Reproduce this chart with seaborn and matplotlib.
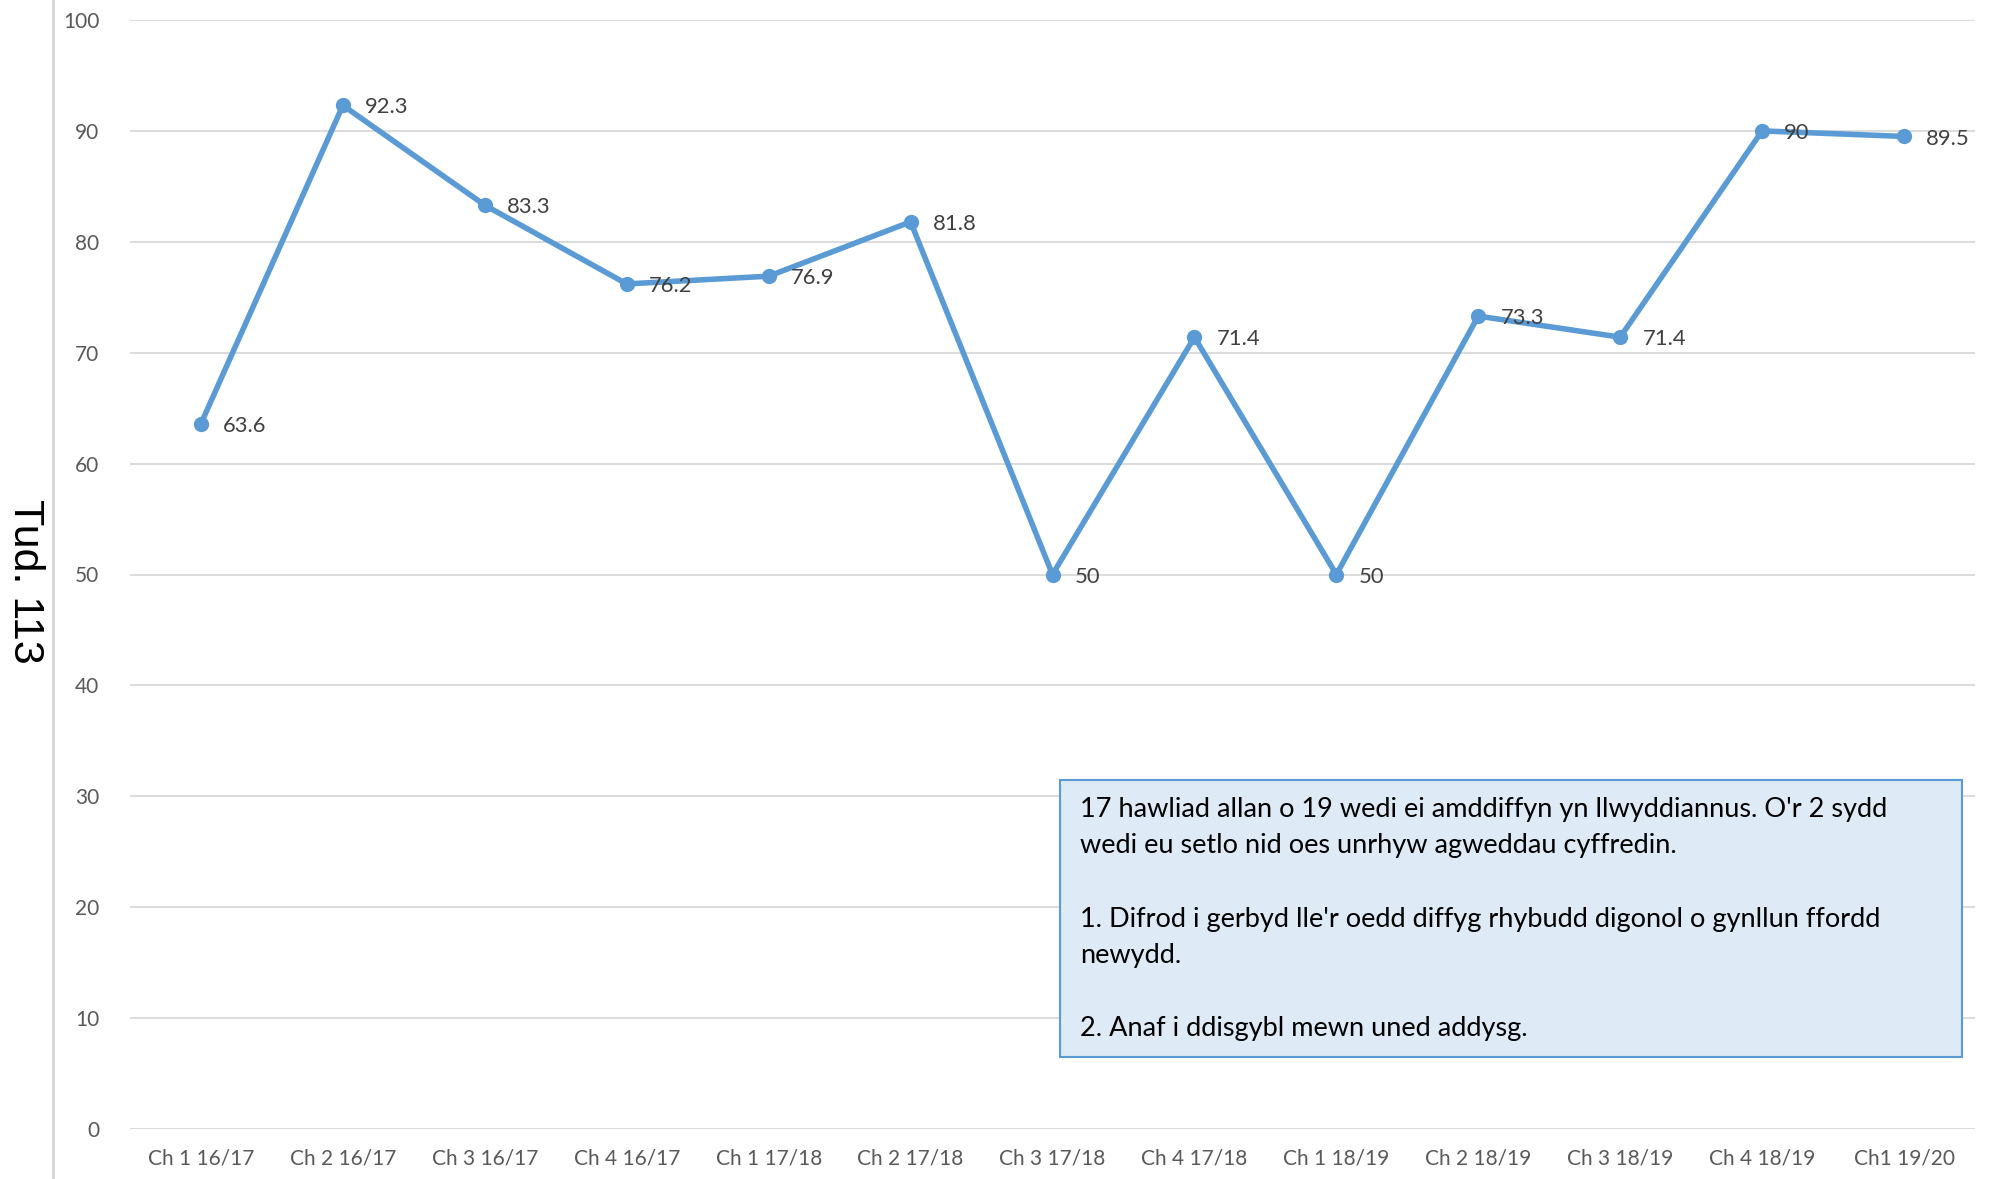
import matplotlib
matplotlib.use("Agg")
import matplotlib.pyplot as plt
import seaborn as sns
import pandas as pd

categories = ["Ch 1 16/17", "Ch 2 16/17", "Ch 3 16/17", "Ch 4 16/17", "Ch 1 17/18",
              "Ch 2 17/18", "Ch 3 17/18", "Ch 4 17/18", "Ch 1 18/19", "Ch 2 18/19",
              "Ch 3 18/19", "Ch 4 18/19", "Ch1 19/20"]
values = [63.6, 92.3, 83.3, 76.2, 76.9, 81.8, 50, 71.4, 50, 73.3, 71.4, 90, 89.5]
value_labels = ["63.6", "92.3", "83.3", "76.2", "76.9", "81.8", "50", "71.4", "50",
                "73.3", "71.4", "90", "89.5"]
y_ticks = [0, 10, 20, 30, 40, 50, 60, 70, 80, 90, 100]
note_text = ("17 hawliad allan o 19 wedi ei amddiffyn yn llwyddiannus. O'r 2 sydd\n"
             "wedi eu setlo nid oes unrhyw agweddau cyffredin.\n\n"
             "1. Difrod i gerbyd lle'r oedd diffyg rhybudd digonol o gynllun ffordd\n"
             "newydd.\n\n"
             "2. Anaf i ddisgybl mewn uned addysg.")
side_label = "Tud. 113"

sns.set_theme(style="white")
plt.rcParams['font.family'] = ['Lato', 'DejaVu Sans']

df = pd.DataFrame({"cat": categories, "val": values})
df["x"] = range(len(df))

fig = plt.figure(figsize=(19.98, 11.79), dpi=100)
ax = fig.add_axes([130/1998, 1 - 1129/1179, (1975-130)/1998, (1129-20)/1179])

sns.lineplot(data=df, x="x", y="val", ax=ax, color="#5B9BD5", linewidth=4,
             marker="o", markersize=11, markeredgewidth=0, zorder=3)

for xi, v, lab in zip(df["x"], values, value_labels):
    ax.annotate(lab, (xi, v), xytext=(16, -1.5), textcoords="offset points",
                ha="left", va="center", fontsize=15.8, color="#404040", zorder=4)

ax.set_xlim(-0.5, len(categories) - 0.5)
ax.set_ylim(0, 100)
ax.set_yticks(y_ticks)
ax.set_xticks(range(len(categories)))
ax.set_xticklabels(categories)
ax.tick_params(axis="both", length=0, labelsize=15, labelcolor="#595959")
ax.tick_params(axis="y", pad=22)
ax.tick_params(axis="x", pad=14)
ax.yaxis.grid(True, color="#D9D9D9", linewidth=1.3)
ax.xaxis.grid(False)
for s in ax.spines.values():
    s.set_visible(False)
ax.set_xlabel("")
ax.set_ylabel("")

# note box
box = plt.Rectangle((1060/1998, 1 - 1057/1179), (1962-1060)/1998, (1057-780)/1179,
                    transform=fig.transFigure, facecolor="#DEEAF6", edgecolor="#5B9BD5",
                    linewidth=1.5, zorder=5)
fig.add_artist(box)
fig.text(1080/1998, 1 - 797/1179, note_text, ha="left", va="top",
         fontsize=19.5, color="#000000", linespacing=1.575, zorder=6)

# page border and side label
fig.add_artist(plt.Line2D([53/1998, 53/1998], [0, 1], transform=fig.transFigure,
                          color="#D4D4D4", linewidth=2))
fig.text(25/1998, 1 - 581/1179, side_label, rotation=-90, ha="center", va="center",
         fontsize=31, family=["Liberation Sans", "DejaVu Sans"], color="#000000")

fig.savefig("out.png", dpi=100)
